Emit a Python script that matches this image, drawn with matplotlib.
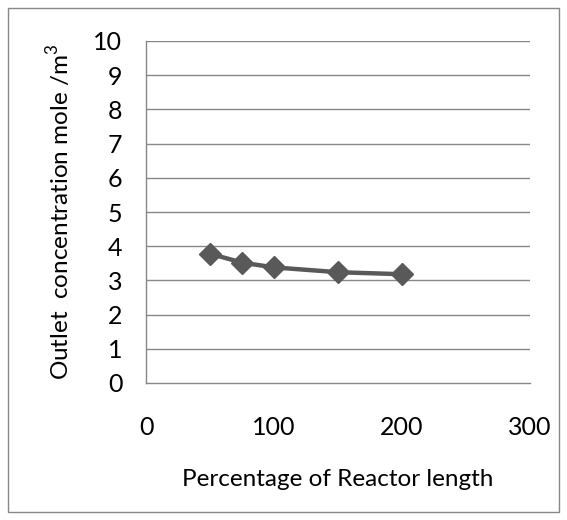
import matplotlib
matplotlib.use("Agg")
import matplotlib.pyplot as plt
from matplotlib.patches import Rectangle

x_pct = [50, 75, 100, 150, 200]
conc = [3.78, 3.52, 3.38, 3.24, 3.18]
x_ticks = [0, 100, 200, 300]
y_ticks = list(range(0, 11))

plt.rcParams['font.family'] = ['Lato', 'DejaVu Sans']
plt.rcParams['mathtext.fontset'] = 'custom'
plt.rcParams['mathtext.rm'] = 'Lato'

fig = plt.figure(figsize=(5.67, 5.2), dpi=100)
fig.patches.append(Rectangle((8/567, 8/520), 551/567, 504/520, transform=fig.transFigure,
                             fill=False, edgecolor='#878787', linewidth=1.0))
ax = fig.add_axes([146/567, 1-383/520, 384/567, 342/520])
grid_c = '#878787'
for yv in y_ticks[1:]:
    ax.axhline(yv, color=grid_c, linewidth=1.0, zorder=1)
ax.plot(x_pct, conc, color='#595959', linewidth=3.2, marker='D', markersize=11,
        markerfacecolor='#595959', markeredgecolor='#595959', zorder=3)
ax.set_xlim(0, 300)
ax.set_ylim(0, 10)
ax.set_xticks(x_ticks)
ax.set_yticks(y_ticks)
for s in ['top', 'right']:
    ax.spines[s].set_visible(False)
for s in ['left', 'bottom']:
    ax.spines[s].set_color(grid_c)
    ax.spines[s].set_linewidth(1.0)
ax.tick_params(axis='y', length=0, labelsize=18, pad=17)
ax.tick_params(axis='x', length=0, labelsize=18, pad=24)
ax.set_xlabel('Percentage of Reactor length', fontsize=17.5, labelpad=21)
ax.set_ylabel('Outlet  concentration mole /m$^{\\mathrm{3}}$', fontsize=17.5, labelpad=15)
fig.savefig('out.png', dpi=100)
